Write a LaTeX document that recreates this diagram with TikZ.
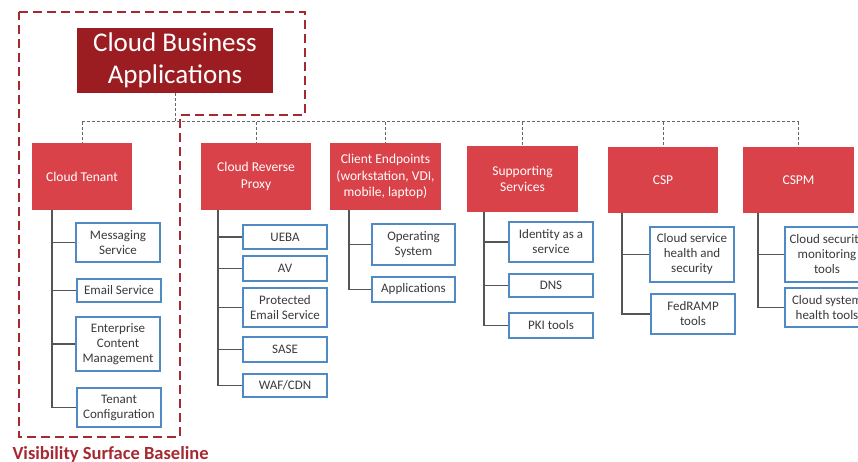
\documentclass[tikz,border=0pt]{standalone}
\usepackage{fontspec}
\setmainfont{Carlito}
\definecolor{cbaRed}{HTML}{9B1C21}
\definecolor{tierRed}{HTML}{DA4249}
\definecolor{leafBlue}{HTML}{4F8AC4}
\definecolor{zoneRed}{HTML}{A62830}
\definecolor{leafText}{HTML}{3A3A3A}
\definecolor{wire}{HTML}{555555}
\begin{document}
\begin{tikzpicture}[x=1pt,y=-1pt,
  topbox/.style={fill=cbaRed, text=white, inner sep=0pt, align=center,
    font=\fontsize{27}{32}\selectfont},
  tierbox/.style={fill=tierRed, text=white, inner sep=0pt, align=center,
    font=\fontsize{13.5}{16.5}\selectfont},
  leafbox/.style={draw=leafBlue, line width=1.2pt, fill=white, text=leafText,
    inner sep=0pt, align=center, minimum width=84, font=\fontsize{13}{15}\selectfont},
  bus/.style={draw=wire!90, line width=1pt, dash pattern=on 3pt off 2pt},
  tree/.style={draw=wire, line width=1.2pt},
  zone/.style={draw=zoneRed, line width=2.5pt, dash pattern=on 9pt off 5pt},
]
\useasboundingbox (0,0) rectangle (858,462);
\clip (0,0) rectangle (858,462);

% visibility zone outline
\draw[zone] (19,12) -- (305,12) -- (305,115) -- (180,115) -- (180,437) -- (19,437) -- cycle;
\node[anchor=base west, text=zoneRed, font=\bfseries\fontsize{18.5}{20}\selectfont]
  (zonelabel) at (9,459) {Visibility Surface Baseline};

% root
\node[topbox, minimum width=196, minimum height=65] (cba) at (175,60.5)
  {Cloud Business\\Applications};

% tier boxes
\node[tierbox, minimum width=100, minimum height=67] (ten) at (82,176.5) {Cloud Tenant};
\node[tierbox, minimum width=110, minimum height=67] (proxy) at (256,176.5) {Cloud Reverse\\Proxy};
\node[tierbox, minimum width=111, minimum height=67] (client) at (385.5,176.5)
  {Client Endpoints\\(workstation, VDI,\\mobile, laptop)};
\node[tierbox, minimum width=111, minimum height=66] (supp) at (522.5,179) {Supporting\\Services};
\node[tierbox, minimum width=110, minimum height=66] (csp) at (663,180) {CSP};
\node[tierbox, minimum width=111, minimum height=66] (cspm) at (798.5,180) {CSPM};

% dashed bus from the root to every tier
\coordinate (j) at (175,122);
\draw[bus] (cba.south) -- (j);
\draw[bus] (ten.north |- j) -- (cspm.north |- j);
\foreach \t in {ten,proxy,client,supp,csp,cspm}
  \draw[bus] (\t.north |- j) -- (\t.north);

% Cloud Tenant
\node[leafbox, minimum height=39] (msg) at (118,242.5) {Messaging\\Service};
\node[leafbox, minimum height=23] (email) at (119,290.5) {Email Service};
\node[leafbox, minimum height=54] (ecm) at (118,344) {Enterprise\\Content\\Management};
\node[leafbox, minimum height=39] (tcfg) at (119,407.5) {Tenant\\Configuration};
\coordinate (tenT) at (52,210);
\foreach \c in {msg,email,ecm,tcfg} \draw[tree] (tenT) |- (\c.west);

% Cloud Reverse Proxy
\node[leafbox, minimum height=24] (ueba) at (285,237) {UEBA};
\node[leafbox, minimum height=25] (av) at (285,268.5) {AV};
\node[leafbox, minimum height=39] (pes) at (285,307.5) {Protected\\Email Service};
\node[leafbox, minimum height=25] (sase) at (285,349.5) {SASE};
\node[leafbox, minimum height=23] (waf) at (285,385.5) {WAF/CDN};
\coordinate (proxyT) at (218,210);
\foreach \c in {ueba,av,pes,sase,waf} \draw[tree] (proxyT) |- (\c.west);

% Client Endpoints
\node[leafbox, minimum width=83, minimum height=41] (os) at (413.5,244.5) {Operating\\System};
\node[leafbox, minimum width=83, minimum height=25] (apps) at (413.5,289.5) {Applications};
\coordinate (clientT) at (349,210);
\foreach \c in {os,apps} \draw[tree] (clientT) |- (\c.west);

% Supporting Services
\node[leafbox, minimum height=40] (idaas) at (551,242) {Identity as a\\service};
\node[leafbox, minimum height=23] (dns) at (551,285.5) {DNS};
\node[leafbox, minimum height=25] (pki) at (551,325.5) {PKI tools};
\coordinate (suppT) at (484,212);
\foreach \c in {idaas,dns,pki} \draw[tree] (suppT) |- (\c.west);

% CSP
\node[leafbox, minimum height=55] (cshs) at (692,254.5) {Cloud service\\health and\\security};
\node[leafbox, minimum height=40] (fed) at (693,314) {FedRAMP\\tools};
\coordinate (cspT) at (622,213);
\foreach \c in {cshs,fed} \draw[tree] (cspT) |- (\c.west);

% CSPM
\node[leafbox, minimum height=55] (csmt) at (827,254.5) {Cloud security\\monitoring\\tools};
\node[leafbox, minimum height=39] (csht) at (827,307.5) {Cloud system\\health tools};
\coordinate (cspmT) at (758,213);
\foreach \c in {csmt,csht} \draw[tree] (cspmT) |- (\c.west);
\end{tikzpicture}
\end{document}
